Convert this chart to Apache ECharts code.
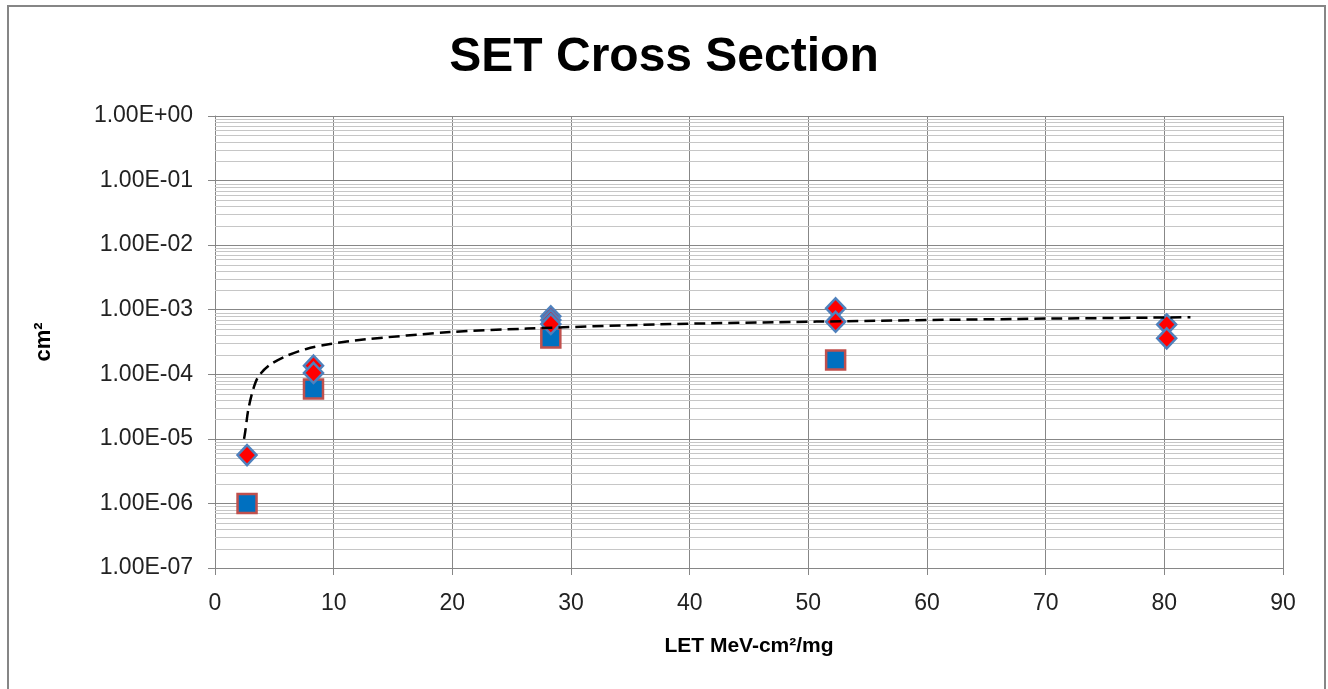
<!DOCTYPE html>
<html>
<head>
<meta charset="utf-8">
<script src="https://cdn.jsdelivr.net/npm/echarts@6/dist/echarts.min.js"></script>
<style>
html,body{margin:0;padding:0;background:#fff;}
#c{width:1328px;height:689px;}
</style>
</head>
<body>
<div id="c"></div>
<script>
// ---- data ----
var diamondX = [2.7, 8.3, 8.3, 28.3, 28.3, 28.3, 52.3, 52.3, 80.2, 80.2];
var diamondY = [5.6e-6, 1.36e-4, 1.05e-4, 7.9e-4, 6.9e-4, 6.0e-4, 1.05e-3, 6.5e-4, 5.9e-4, 3.6e-4];
var squareX = [2.7, 8.3, 28.3, 52.3];
var squareY = [1.0e-6, 5.9e-5, 3.65e-4, 1.66e-4];
var trendX = [2.45, 2.55, 2.8, 3.2, 3.65, 4.6, 6.0, 7.7, 9.7, 12.5, 19.8, 26.3, 37.5, 50.7, 67.6, 79.1, 82.2];
var trendY = [1.0e-5, 1.3e-5, 2.8e-5, 5.7e-5, 9.2e-5, 1.39e-4, 1.92e-4, 2.47e-4, 2.94e-4, 3.45e-4, 4.5e-4, 5.1e-4, 5.94e-4, 6.54e-4, 7.2e-4, 7.55e-4, 7.65e-4];
var xTicks = [0, 10, 20, 30, 40, 50, 60, 70, 80, 90];
var yMinExp = -7, yMaxExp = 0;
var xMin = 0, xMax = 90;

function zip(a, b) { return a.map(function (v, i) { return [v, b[i]]; }); }

// minor log gridlines at 2..9 per decade
var minorVals = [];
for (var d = yMinExp; d < yMaxExp; d++) {
  for (var m = 2; m <= 9; m++) minorVals.push([m * Math.pow(10, d)]);
}

function fmtExp(v) {
  var e = Math.round(Math.log10(v));
  var sign = e < 0 ? '-' : '+';
  var a = Math.abs(e);
  return '1.00E' + sign + (a < 10 ? '0' + a : a);
}

var FONT = 'Liberation Sans, Arial, sans-serif';
var chart = echarts.init(document.getElementById('c'), null, { renderer: 'canvas' });
chart.setOption({
  animation: false,
  backgroundColor: '#ffffff',
  title: {
    text: 'SET Cross Section',
    left: 'center',
    top: 29,
    textStyle: { fontFamily: FONT, fontSize: 48, fontWeight: 'bold', color: '#000' }
  },
  graphic: [{
    type: 'rect',
    shape: { x: 8, y: 6, width: 1317, height: 700 },
    style: { fill: 'none', stroke: '#868686', lineWidth: 2 },
    silent: true
  }],
  grid: { left: 215, right: 45, top: 116, bottom: 121, containLabel: false },
  xAxis: {
    type: 'value',
    min: xMin, max: xMax, interval: 10,
    name: 'LET MeV-cm²/mg',
    nameLocation: 'middle',
    nameGap: 68,
    nameTextStyle: { fontFamily: FONT, fontSize: 21, fontWeight: 'bold', color: '#000' },
    axisLine: { show: true, lineStyle: { color: '#868686', width: 1 } },
    axisTick: { show: true, inside: false, length: 7, lineStyle: { color: '#868686' } },
    axisLabel: { margin: 24, fontFamily: FONT, fontSize: 23, color: '#222',
      formatter: function (v) { return xTicks.indexOf(v) >= 0 ? String(v) : ''; } },
    splitLine: { show: true, lineStyle: { color: '#878787', width: 1 } }
  },
  yAxis: {
    type: 'log', logBase: 10,
    min: Math.pow(10, yMinExp), max: Math.pow(10, yMaxExp),
    name: 'cm²',
    nameLocation: 'middle',
    nameGap: 160,
    nameRotate: 90,
    nameTextStyle: { fontFamily: FONT, fontSize: 22, fontWeight: 'bold', color: '#000' },
    axisLine: { show: true, lineStyle: { color: '#868686', width: 1 } },
    axisTick: { show: true, inside: false, length: 7, lineStyle: { color: '#868686' } },
    axisLabel: { margin: 22, fontFamily: FONT, fontSize: 23, color: '#222', formatter: fmtExp },
    splitLine: { show: true, lineStyle: { color: '#878787', width: 1 } }
  },
  series: [
    {
      type: 'custom', name: 'minor', silent: true,
      data: minorVals,
      encode: { y: 0 },
      renderItem: function (params, api) {
        var y = api.value(0);
        var p1 = api.coord([xMin, y]);
        var p2 = api.coord([xMax, y]);
        var yy = Math.round(p1[1]) + 0.5;
        return {
          type: 'line',
          shape: { x1: p1[0], y1: yy, x2: p2[0], y2: yy },
          style: { stroke: '#c6c6c6', lineWidth: 1 }
        };
      },
      z: 1
    },
    {
      type: 'scatter', name: 'square',
      data: zip(squareX, squareY),
      symbol: 'rect', symbolSize: 19,
      itemStyle: { color: '#0070c0', borderColor: '#c0504d', borderWidth: 2.5, opacity: 1 },
      z: 3
    },
    {
      type: 'scatter', name: 'diamond',
      data: zip(diamondX, diamondY),
      symbol: 'diamond', symbolSize: [19, 20],
      itemStyle: { color: '#ff0000', borderColor: '#4f81bd', borderWidth: 2.5, opacity: 1 },
      z: 4
    },
    {
      type: 'line', name: 'trend',
      data: zip(trendX, trendY),
      smooth: 0.3, showSymbol: false,
      lineStyle: { color: '#000', width: 2.5, type: [11, 6] },
      z: 5
    }
  ]
});
</script>
</body>
</html>
